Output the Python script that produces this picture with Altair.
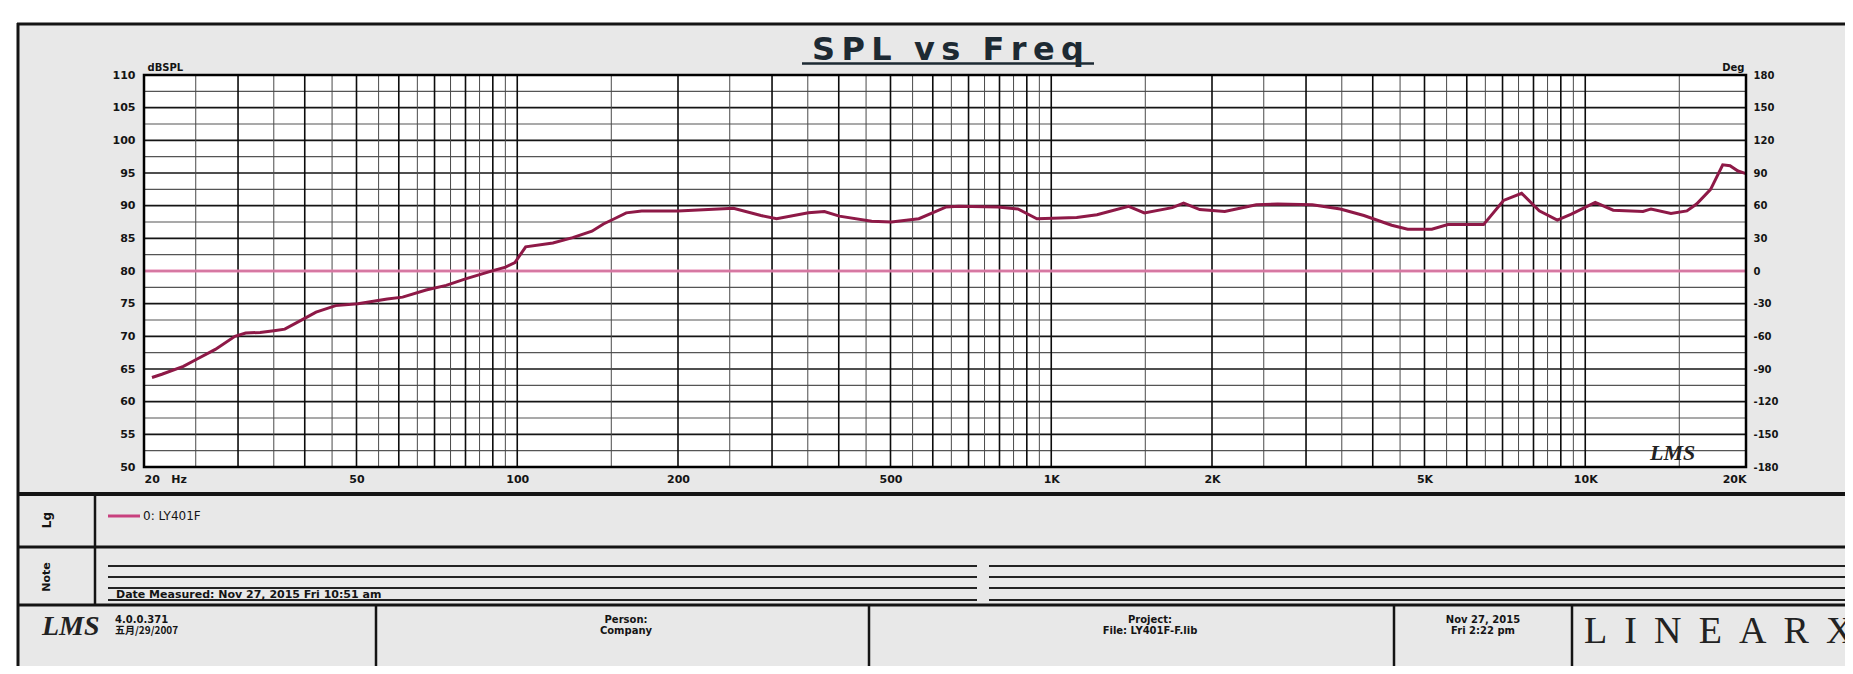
import altair as alt
import pandas as pd

# ---------------- data ----------------
freq_hz = [20.7, 21.6, 23.7, 25.1, 27.2, 29.6, 31.0, 33.0, 35.3, 36.7,
           39.9, 42.0, 45.7, 50.3, 57.1, 61.0, 67.5, 73.6, 80.0, 90.4,
           95.1, 99.0, 103.7, 116.6, 127.0, 138.0, 145.0, 152.0, 160.0, 171.0,
           200.0, 254.0, 286.0, 306.0, 351.0, 376.0, 401.0, 461.0, 502.0, 565.0,
           636.0, 671.0, 794.0, 866.0, 940.0, 1116.0, 1218.0, 1396.0, 1494.0, 1685.0,
           1770.0, 1897.0, 2113.0, 2421.0, 2654.0, 3083.0, 3478.0, 3850.0, 4340.0, 4650.0,
           5160.0, 5530.0, 6450.0, 7030.0, 7600.0, 8200.0, 8865.0, 9418.0, 10440.0, 11280.0,
           12830.0, 13280.0, 14470.0, 15500.0, 16160.0, 17170.0, 18090.0, 18670.0, 19320.0, 20000.0]
spl_db = [63.7, 64.2, 65.4, 66.5, 68.0, 70.0, 70.5, 70.6, 70.9, 71.1,
          72.7, 73.7, 74.7, 75.0, 75.7, 76.0, 77.1, 77.8, 78.8, 80.1,
          80.6, 81.3, 83.7, 84.3, 85.1, 86.1, 87.2, 88.0, 88.9, 89.2,
          89.2, 89.6, 88.5, 88.0, 88.9, 89.1, 88.4, 87.6, 87.5, 88.0,
          89.8, 89.9, 89.8, 89.5, 88.0, 88.2, 88.6, 89.9, 88.9, 89.7,
          90.4, 89.4, 89.1, 90.15, 90.25, 90.15, 89.5, 88.5, 87.0, 86.4,
          86.4, 87.1, 87.1, 90.8, 91.9, 89.2, 87.8, 88.7, 90.5, 89.3,
          89.1, 89.5, 88.8, 89.2, 90.25, 92.5, 96.25, 96.1, 95.3, 94.9]
phase_freq_hz = [20, 20000]
phase_deg = [0, 0]

x_tick_hz = [20, 50, 100, 200, 500, 1000, 2000, 5000, 10000, 20000]
x_tick_text = ["20\u00a0\u00a0\u00a0Hz", "50", "100", "200", "500", "1K", "2K", "5K", "10K", "20K"]
spl_ticks = [50, 55, 60, 65, 70, 75, 80, 85, 90, 95, 100, 105, 110]
deg_ticks = [-180, -150, -120, -90, -60, -30, 0, 30, 60, 90, 120, 150, 180]

vgrid_major_hz = [30, 40, 50, 60, 70, 80, 90, 100, 200, 300, 400, 500, 600, 700, 800, 900,
                  1000, 2000, 3000, 4000, 5000, 6000, 7000, 8000, 9000, 10000]
vgrid_minor_hz = [25, 35, 45, 55, 65, 75, 85, 95, 150, 250, 350, 450, 550, 650, 750, 850, 950,
                  1500, 2500, 3500, 4500, 5500, 6500, 7500, 8500, 9500, 15000]
hgrid_major_db = [55, 60, 65, 70, 75, 80, 85, 90, 95, 100, 105]
hgrid_minor_db = [52.5, 57.5, 62.5, 67.5, 72.5, 77.5, 82.5, 87.5, 92.5, 97.5, 102.5, 107.5]

TS = "\u2009"      # thin space between letters
WS = "\u00a0\u00a0"  # wider gap between words
title_text = ["S" + TS + "P" + TS + "L" + WS + "v" + TS + "s" + WS + "F" + TS + "r" + TS + "e" + TS + "q"]
left_unit = "dBSPL"
right_unit = "Deg"
legend_label = ["0: LY401F"]
panel_labels = ["Lg", "Note"]
note_text = ["Date Measured: Nov 27, 2015  Fri 10:51 am"]
footer_version = ["4.0.0.371", "五月/29/2007"]
footer_person = ["Person:", "Company"]
footer_project = ["Project:", "File: LY401F-F.lib"]
footer_date = ["Nov 27, 2015", "Fri 2:22 pm"]
logo_lms = ["LMS"]
logo_linearx = ["\u00a0\u2009".join("LINEARX")]

# ---------------- layout ----------------
W, H = 1602, 392          # plot area
OX, OY = 144, 75          # page position of the plot's top-left corner
SVG_W, SVG_H = 1837, 658
FONT = "DejaVu Sans"
SPL_COLOR = "#8e1947"
PHASE_COLOR = "#e47cab"
PANEL = "#e8e8e8"
INK = "#141414"

# panel rows (page y)
ROW_CHART_END = 494
ROW_LEGEND_END = 547
ROW_NOTES_END = 605
PAGE_BOTTOM = 8 + SVG_H
PAGE_RIGHT = 8 + SVG_W


def cx(px):
    return px - OX


def cy(py):
    return py - OY


one = pd.DataFrame({"k": [0]})


def rect(x1, y1, x2, y2, fill, stroke=None, sw=0):
    kw = {"fill": fill}
    if stroke:
        kw.update(stroke=stroke, strokeWidth=sw)
    return alt.Chart(one).mark_rect(**kw).encode(
        x=alt.value(cx(x1)), x2=alt.value(cx(x2)), y=alt.value(cy(y1)), y2=alt.value(cy(y2)))


def hline(x1, x2, y, w, color=INK):
    return alt.Chart(one).mark_rule(color=color, strokeWidth=w).encode(
        x=alt.value(cx(x1)), x2=alt.value(cx(x2)), y=alt.value(cy(y)))


def vline(x, y1, y2, w, color=INK):
    return alt.Chart(one).mark_rule(color=color, strokeWidth=w).encode(
        x=alt.value(cx(x)), y=alt.value(cy(y1)), y2=alt.value(cy(y2)))


def txt(s, x, y, size=11, weight="bold", align="left", baseline="middle",
        font=FONT, color=INK, angle=0, style="normal"):
    return alt.Chart(pd.DataFrame({"t": [s]})).mark_text(
        align=align, baseline=baseline, fontSize=size, fontWeight=weight, font=font,
        color=color, angle=angle, fontStyle=style).encode(
        x=alt.value(cx(x)), y=alt.value(cy(y)), text="t:N")


# ---------------- scales / axes ----------------
xscale = alt.Scale(type="log", domain=[20, 20000], nice=False)
label_expr = " : ".join(f"datum.value == {v} ? '{t}'" for v, t in zip(x_tick_hz, x_tick_text)) + " : ''"
xaxis = alt.Axis(values=x_tick_hz, labelExpr=label_expr, labelFlush=True, labelOverlap=False,
                 grid=False, ticks=False, domain=False, labelFont=FONT, labelFontSize=11,
                 labelFontWeight="bold", labelColor=INK, labelPadding=6, title=None, zindex=2)
X = alt.X("f:Q", scale=xscale, axis=xaxis)

yscale = alt.Scale(domain=[50, 110], nice=False, zero=False)
yaxis = alt.Axis(values=spl_ticks, grid=False, ticks=False, domain=False, labelOverlap=False,
                 labelFont=FONT, labelFontSize=11, labelFontWeight="bold", labelColor=INK,
                 labelPadding=9, title=left_unit, titleAngle=0, titleX=3, titleY=-3,
                 titleAlign="left", titleBaseline="bottom", titleFont=FONT, titleFontSize=10,
                 titleFontWeight="bold", titleColor=INK, zindex=2)
deg_axis = alt.Axis(orient="right", values=deg_ticks, labelExpr="datum.value + ''",
                    grid=False, ticks=False, domain=False, labelOverlap=False,
                    labelFont=FONT, labelFontSize=10, labelFontWeight="bold", labelColor=INK,
                    labelPadding=7, title=right_unit, titleAngle=0, titleX=-2, titleY=-3,
                    titleAlign="right", titleBaseline="bottom", titleFont=FONT, titleFontSize=10,
                    titleFontWeight="bold", titleColor=INK, zindex=2)

# ---------------- layer A: backgrounds and grid ----------------
bg_white = rect(8, 8, PAGE_RIGHT, PAGE_BOTTOM, "white")
bg_panel = rect(18, 23, PAGE_RIGHT, PAGE_BOTTOM, PANEL)
plot_white = rect(OX, OY, OX + W, OY + H, "white")

hmaj = alt.Chart(pd.DataFrame({"db": hgrid_major_db})).mark_rule(color="#141414", strokeWidth=1.6).encode(
    y=alt.Y("db:Q", scale=yscale, axis=yaxis))
hmin = alt.Chart(pd.DataFrame({"db": hgrid_minor_db})).mark_rule(color="#555555", strokeWidth=1.1).encode(
    y=alt.Y("db:Q", scale=yscale, axis=yaxis))
vmaj = alt.Chart(pd.DataFrame({"f": vgrid_major_hz})).mark_rule(color="#0c0c0c", strokeWidth=1.6).encode(x=X)
vmin = alt.Chart(pd.DataFrame({"f": vgrid_minor_hz})).mark_rule(color="#4a4a4a", strokeWidth=1.0).encode(x=X)

layer_a = alt.layer(bg_white, bg_panel, plot_white, hmin, hmaj, vmin, vmaj)

# ---------------- layer B: phase (right axis) ----------------
phase = alt.Chart(pd.DataFrame({"f": phase_freq_hz, "deg": phase_deg})).mark_line(
    color=PHASE_COLOR, strokeWidth=3, opacity=0.9).encode(
    x=X, y=alt.Y("deg:Q", scale=alt.Scale(domain=[-180, 180], nice=False, zero=False), axis=deg_axis))

# ---------------- layer C: SPL curve and decorations ----------------
spl = alt.Chart(pd.DataFrame({"f": freq_hz, "db": spl_db})).mark_line(
    color=SPL_COLOR, strokeWidth=3).encode(x=X, y=alt.Y("db:Q", scale=yscale, axis=None))

frame = rect(OX, OY, OX + W, OY + H, "transparent", stroke="#000", sw=2.5)

decor = [
    frame,
    txt(logo_lms[0], 1650, 460, size=22, weight="bold", style="italic", font="Liberation Serif",
        baseline="alphabetic", color="#222"),
    txt(title_text[0], 948, 60, size=32, align="center", baseline="alphabetic", color="#1d2a33"),
    hline(802, 1094, 63.5, 2.5, color="#1d2a33"),
    # outer frame and panel separators
    hline(17, PAGE_RIGHT, 24, 3),
    vline(18, 23, PAGE_BOTTOM, 3),
    hline(17, PAGE_RIGHT, ROW_CHART_END, 4),
    hline(17, PAGE_RIGHT, ROW_LEGEND_END, 3),
    hline(17, PAGE_RIGHT, ROW_NOTES_END, 3),
    vline(95, ROW_CHART_END, ROW_NOTES_END, 2.5),
    vline(376, ROW_NOTES_END, PAGE_BOTTOM, 2.5),
    vline(869, ROW_NOTES_END, PAGE_BOTTOM, 2.5),
    vline(1394, ROW_NOTES_END, PAGE_BOTTOM, 2.5),
    vline(1572, ROW_NOTES_END, PAGE_BOTTOM, 2.5),
    # legend row
    txt(panel_labels[0], 47, 520, size=12, angle=270, align="center"),
    hline(108, 140, 516, 3, color="#c8407e"),
    txt(legend_label[0], 143, 516, size=12, weight="normal"),
    # notes row
    txt(panel_labels[1], 47, 577, size=11, angle=270, align="center"),
]
for yy in [566, 577, 588, 600]:
    decor.append(hline(108, 977, yy, 2.0, color="#222"))
    decor.append(hline(989, PAGE_RIGHT, yy, 2.0, color="#222"))
decor += [
    txt(note_text[0], 116, 598, size=11, baseline="alphabetic"),
    # footer
    txt(logo_lms[0], 42, 635, size=28, style="italic", font="Liberation Serif", baseline="alphabetic",
        color="#222"),
    txt(footer_version[0], 115, 620, size=10),
    txt(footer_version[1], 115, 631, size=10, font="Noto Sans CJK SC"),
    txt(footer_person[0], 626, 620, size=10, align="center"),
    txt(footer_person[1], 626, 631, size=10, align="center"),
    txt(footer_project[0], 1150, 620, size=10, align="center"),
    txt(footer_project[1], 1150, 631, size=10, align="center"),
    txt(footer_date[0], 1483, 620, size=10, align="center"),
    txt(footer_date[1], 1483, 631, size=10, align="center"),
    txt(logo_linearx[0], 1584, 643, size=38, weight="normal", font="Liberation Serif",
        baseline="alphabetic", color="#222"),
]

layer_c = alt.layer(spl, *decor)

chart = alt.layer(layer_a, phase, layer_c).resolve_scale(y="independent").properties(
    width=W, height=H,
    padding={"left": OX - 8, "top": OY - 8, "right": SVG_W - (OX - 8) - W, "bottom": SVG_H - (OY - 8) - H},
    autosize=alt.AutoSizeParams(type="none"),
).configure_view(stroke=None)

chart.save("out.html", embed_options={"renderer": "svg", "actions": False})
